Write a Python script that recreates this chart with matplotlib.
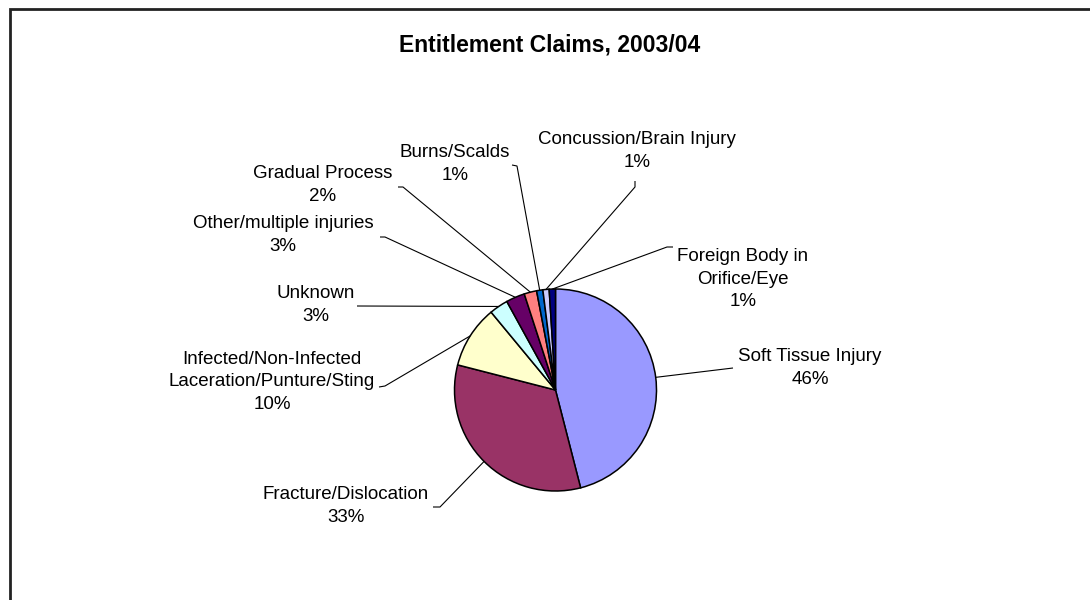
import numpy as np
import matplotlib
matplotlib.use("Agg")
import matplotlib.pyplot as plt

plt.rcParams.update({"font.family": ["Liberation Sans", "DejaVu Sans"]})

categories = ["Soft Tissue Injury", "Fracture/Dislocation",
              "Infected/Non-Infected\nLaceration/Punture/Sting", "Unknown",
              "Other/multiple injuries", "Gradual Process", "Burns/Scalds",
              "Concussion/Brain Injury", "Foreign Body in\nOrifice/Eye"]
shares = [46, 33, 10, 3, 3, 2, 1, 1, 1]
colors = ["#9999FF", "#993366", "#FFFFCC", "#CCFFFF", "#660066",
          "#FF8080", "#0066CC", "#CCCCFF", "#000080"]

W, H = 1090, 600
def Y(y):  # pixel row -> data y
    return H - y

# label block centre, leader elbow and leader end (pixel coords)
label_pos = [(810, 368), (346, 506), (272, 382), (316, 305), (283, 235),
             (323, 185), (455, 164), (637, 151), (743, 279)]
elbow = [(733, 368), (440, 507), (385, 386), (357, 306), (385, 237),
         (403, 187), (517, 166), (635, 187), (667, 247)]
lead_end = [(733, 368), (433, 507), (379, 387), (357, 306), (380, 237),
            (398, 187), (512, 165), (635, 181), (673, 247)]

CX, CY, R = 555.5, 390, 101

fig = plt.figure(figsize=(10.9, 6.0), dpi=100)
ax = fig.add_axes([0, 0, 1, 1])
ax.set_xlim(0, W); ax.set_ylim(0, H); ax.set_aspect("equal"); ax.axis("off")

wedges, _ = ax.pie(shares, colors=colors, startangle=90, counterclock=False,
                   center=(CX, Y(CY)), radius=R,
                   wedgeprops=dict(edgecolor="black", linewidth=1.1))
ax.set_xlim(0, W); ax.set_ylim(0, H)

for w, name, v, (tx, ty), (ex, ey), (lx, ly) in zip(wedges, categories, shares,
                                                    label_pos, elbow, lead_end):
    mid = np.deg2rad((w.theta1 + w.theta2) / 2)
    ax_, ay_ = CX + R * np.cos(mid), Y(CY) + R * np.sin(mid)
    ax.plot([ax_, ex, lx], [ay_, Y(ey), Y(ly)], color="black", lw=0.8,
            solid_capstyle="butt")
    ax.text(tx, Y(ty), f"{name}\n{v}%", ha="center", va="center",
            fontsize=13.5, linespacing=1.4, color="black")

ax.text(550, Y(45), "Entitlement Claims, 2003/04", ha="center", va="center",
        fontsize=16.5, weight="bold")

# chart frame (only top and left edges fall inside the image)
ax.plot([10, 10, W + 5], [-5, Y(9), Y(9)], color="#222222", lw=2.0,
        solid_joinstyle="miter")

fig.savefig("out.png", dpi=100)
